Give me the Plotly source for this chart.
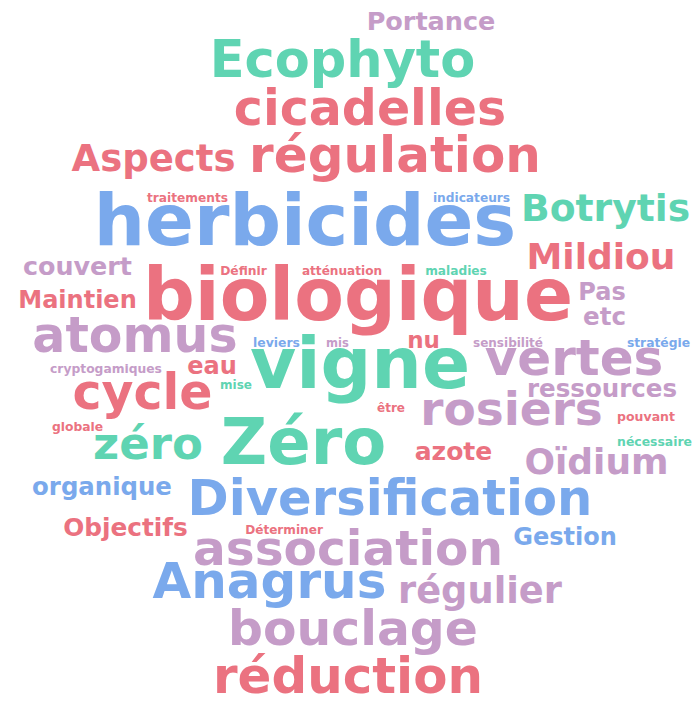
import plotly.graph_objects as go

# Word cloud content
words = ["Portance", "Ecophyto", "cicadelles", "Aspects", "régulation", "traitements",
         "indicateurs", "herbicides", "Botrytis", "Mildiou", "couvert", "Définir",
         "atténuation", "maladies", "biologique", "Pas", "Maintien", "etc", "atomus",
         "leviers", "mis", "nu", "sensibilité", "stratégie", "vigne", "vertes",
         "cryptogamiques", "eau", "mise", "ressources", "cycle", "être", "pouvant",
         "rosiers", "globale", "zéro", "Zéro", "nécessaire", "azote", "Oïdium",
         "organique", "Diversification", "Objectifs", "Déterminer", "Gestion",
         "association", "Anagrus", "régulier", "bouclage", "réduction"]

# relative prominence of each word (rendered font size in px)
weights = [25.5, 51, 49, 37, 50, 12.2,
           12.2, 72, 37.7, 36, 25.4, 12.3,
           12.1, 12.2, 72.4, 24, 24, 24.6, 49,
           12.4, 11.5, 23, 12, 12.3, 71, 50,
           12.3, 24, 12, 24.5, 49, 12, 12.5,
           47, 12.3, 45, 64, 12.4, 25, 36,
           24.4, 49.6, 24.8, 12.1, 24,
           48.6, 50, 36.8, 48.8, 49.9]

# colour group of each word
groups = ["P", "G", "R", "R", "R", "R",
          "B", "B", "G", "R", "P", "R",
          "R", "G", "R", "P", "R", "P", "P",
          "B", "P", "R", "P", "B", "G", "P",
          "P", "R", "G", "P", "R", "R", "R",
          "P", "R", "G", "G", "G", "R", "P",
          "B", "B", "R", "R", "B",
          "P", "B", "P", "P", "R"]

# ---- layout of the cloud (pixel placement: left, right, baseline) ----
left = [367, 210, 233, 72, 250, 147,
        433, 95, 521, 526, 23, 220,
        302, 425, 143, 578, 18, 583, 32,
        253, 327, 407, 473, 627, 250, 485,
        50, 187, 220, 527, 72, 377, 617,
        420, 52, 93, 222, 617, 415, 525,
        32, 187, 63, 245, 513,
        193, 152, 398, 228, 213]
right = [495, 475, 507, 235, 540, 228,
         510, 515, 690, 676, 132, 267,
         382, 487, 573, 626, 137, 626, 238,
         300, 348, 440, 543, 690, 470, 663,
         162, 237, 252, 677, 213, 405, 675,
         603, 103, 203, 385, 692, 492, 668,
         172, 593, 188, 323, 617,
         503, 387, 562, 478, 483]
baseline = [33, 82, 130, 175, 177, 203,
            203, 252, 225, 273, 278, 276,
            276, 276, 327, 302, 310, 327, 357,
            348, 348, 350, 348, 348, 395, 380,
            374, 376, 390, 399, 414, 413, 422,
            430, 432, 463, 470, 447, 462, 478,
            497, 520, 538, 535, 547,
            570, 603, 607, 650, 698]

palette = {"R": "#EB7280", "B": "#7AA9EC", "G": "#5FD4B2", "P": "#C59CC8"}
colors = [palette[g] for g in groups]

xc = [(a + b) / 2 for a, b in zip(left, right)]
# plotly places middle-aligned text with baseline 0.35em below the anchor
yc = [bl - 0.35 * s for bl, s in zip(baseline, weights)]

W, H = 693, 703

fig = go.Figure(go.Scatter(
    x=xc, y=yc, text=words, mode="text",
    textposition="middle center",
    textfont=dict(family="DejaVu Sans", size=weights, color=colors, weight="bold"),
    hoverinfo="text",
    cliponaxis=False,
))

fig.update_layout(
    width=W, height=H,
    margin=dict(l=0, r=0, t=0, b=0),
    paper_bgcolor="white", plot_bgcolor="white",
    showlegend=False,
    xaxis=dict(range=[0, W], visible=False, fixedrange=True),
    yaxis=dict(range=[H, 0], visible=False, fixedrange=True),
)

fig.write_html(
    "out.html",
    config={"displayModeBar": False},
    post_script="document.body.style.margin='0';"
                "document.documentElement.style.overflow='hidden';"
                "document.body.style.overflow='hidden';",
)
